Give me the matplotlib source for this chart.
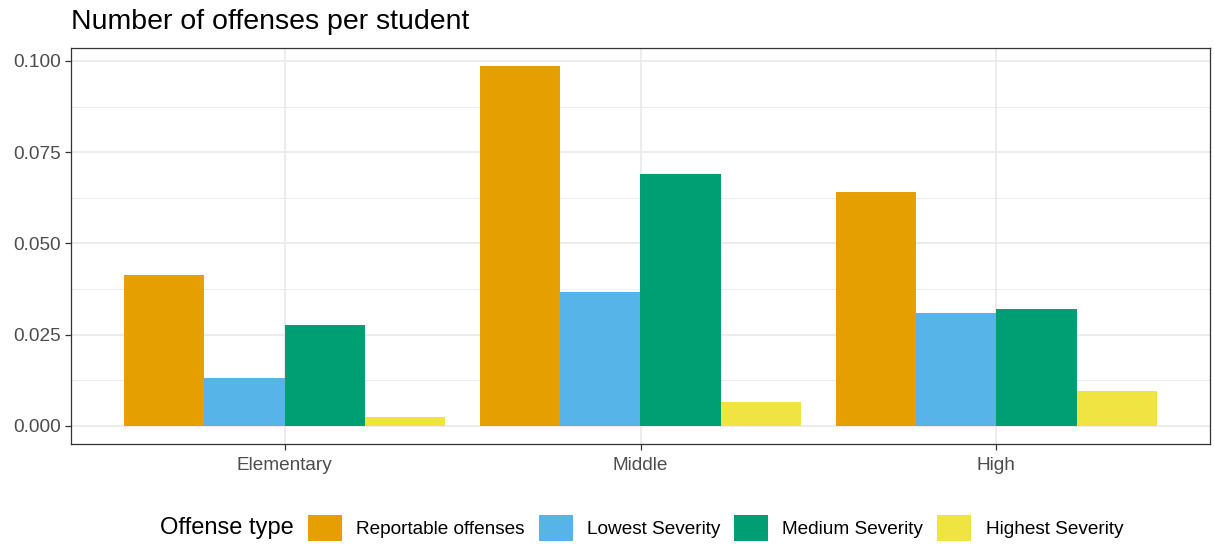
import matplotlib.pyplot as plt
import numpy as np
from matplotlib.patches import Patch
from matplotlib.ticker import MultipleLocator, FormatStrFormatter

plt.rcParams['font.family'] = ['Liberation Sans', 'DejaVu Sans']

levels = ["Elementary", "Middle", "High"]
offense_types = ["Reportable offenses", "Lowest Severity", "Medium Severity", "Highest Severity"]
reportable = [0.0413, 0.0986, 0.0642]
lowest = [0.0132, 0.0366, 0.0309]
medium = [0.0277, 0.0689, 0.0321]
highest = [0.0025, 0.0066, 0.0096]
colors = ["#E69F00", "#56B4E9", "#009E73", "#F0E442"]

series = [reportable, lowest, medium, highest]

fig = plt.figure(figsize=(12.14, 5.45), dpi=100)
ax = fig.add_axes([71 / 1214, 1 - 444 / 545, 1139 / 1214, 396 / 545])

x = np.arange(1, len(levels) + 1)
w = 0.9 / len(series)
for i, (vals, col) in enumerate(zip(series, colors)):
    ax.bar(x - 0.45 + w * (i + 0.5), vals, width=w, color=col, label=offense_types[i], zorder=2)

ymax = max(max(s) for s in series)
pad = ymax * 0.05
ax.set_ylim(-pad, ymax + pad)
ax.set_xlim(0.4, 3.6)
ax.set_xticks(x)
ax.set_xticklabels(levels)
ax.yaxis.set_major_locator(MultipleLocator(0.025))
ax.yaxis.set_minor_locator(MultipleLocator(0.0125))
ax.yaxis.set_major_formatter(FormatStrFormatter('%.3f'))

ax.grid(which='major', color='#EBEBEB', linewidth=1.3, zorder=0)
ax.grid(which='minor', axis='y', color='#EBEBEB', linewidth=0.7, zorder=0)
ax.set_axisbelow(True)
for sp in ax.spines.values():
    sp.set_color('#333333')
    sp.set_linewidth(0.9)
ax.tick_params(which='major', length=4, width=0.9, color='#333333', labelsize=13.7,
               labelcolor='#4D4D4D', pad=3)
ax.tick_params(which='minor', length=0)
ax.tick_params(axis='x', pad=5)

fig.text(71 / 1214, 1 - 22 / 545, "Number of offenses per student", fontsize=20.5,
         ha='left', va='center')

handles = [Patch(facecolor=c, edgecolor='none') for c in colors]
fig.legend(handles, offense_types, loc='center', bbox_to_anchor=(715.5 / 1214, 1 - 528 / 545),
           ncol=4, frameon=False, fontsize=13.7, handlelength=1.79, handleheight=1.79,
           handletextpad=0.74, columnspacing=0.74, borderaxespad=0, borderpad=0)
fig.text(160 / 1214, 1 - 528 / 545, "Offense type", fontsize=17, ha='left', va='center')

fig.savefig("out.png", dpi=100)
